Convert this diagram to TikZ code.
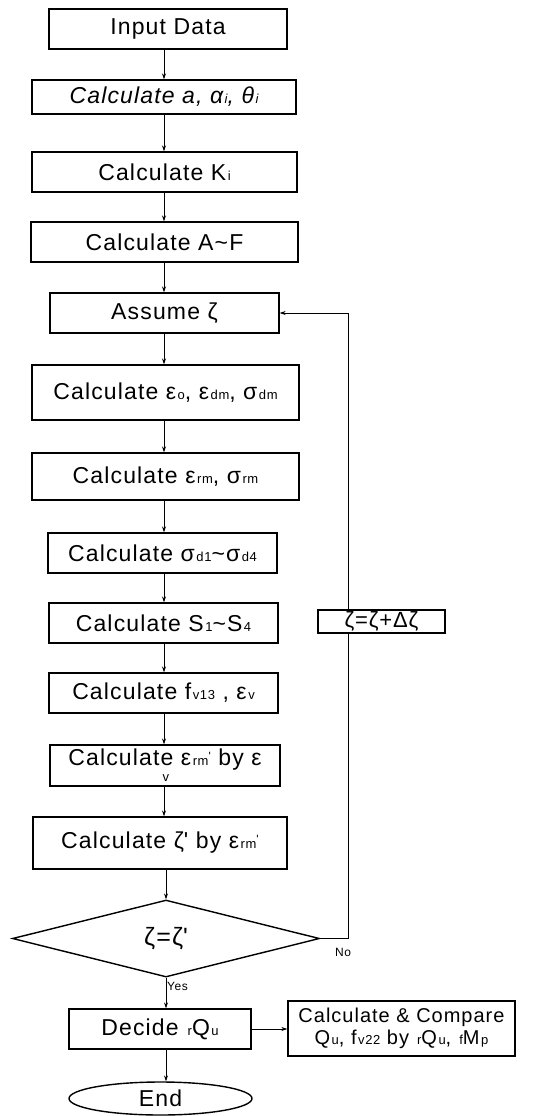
\documentclass[tikz,border=0pt]{standalone}
\usepackage{fontspec}
\setmainfont{Liberation Sans}[LetterSpace=5]
\usetikzlibrary{shapes.geometric,arrows.meta}
\newcommand\sbx[1]{\kern1.5pt{\fontsize{13}{13}\selectfont #1}}
\newcommand\prm{\raisebox{5pt}{\fontsize{12}{12}\selectfont\textquotesingle}}
\begin{document}
\begin{tikzpicture}[x=1pt,y=-1pt,
  box/.style={draw, line width=1.4pt, rectangle, inner sep=0pt, align=center, font=\fontsize{23}{27}\selectfont},
  arr/.style={-{Stealth[length=6pt,width=4pt]}, line width=0.7pt},
  ln/.style={line width=0.7pt},
  lbl/.style={font=\fontsize{12}{12}\selectfont, inner sep=0pt}]
\useasboundingbox (0,0) rectangle (547,1116);
\coordinate (ax) at (164,0);
\coordinate (lx) at (348,0);
\node[box, minimum width=238pt, minimum height=40pt] (in) at (168,29) {Input Data};
\node[box, minimum width=264pt, minimum height=34pt] (ca) at (164,97) {\itshape Calculate a, α\sbx{i}, θ\sbx{i}};
\node[box, minimum width=265pt, minimum height=40pt] (ki) at (164.5,172) {Calculate K\sbx{i}};
\node[box, minimum width=267pt, minimum height=40pt] (af) at (164.5,242) {Calculate A\textasciitilde F};
\node[box, minimum width=229pt, minimum height=40pt] (as) at (164.5,313) {Assume ζ};
\node[box, minimum width=267pt, minimum height=55pt] (eo) at (165.5,392.5) {Calculate ε\sbx{o}, ε\sbx{dm}, σ\sbx{dm}};
\node[box, minimum width=267pt, minimum height=47pt] (er) at (165.5,476.5) {Calculate ε\sbx{rm}, σ\sbx{rm}};
\node[box, minimum width=229pt, minimum height=40pt] (sd) at (162.5,553) {Calculate σ\sbx{d1}\textasciitilde σ\sbx{d4}};
\node[box, minimum width=229pt, minimum height=40pt] (s1) at (163.5,623) {Calculate S\sbx{1}\textasciitilde S\sbx{4}};
\node[box, minimum width=229pt, minimum height=40pt] (fv) at (163.5,693) {Calculate f\sbx{v13} , ε\sbx{v}};
\node[box, minimum width=230pt, minimum height=41pt] (em) at (165,765.5) {Calculate ε\sbx{rm}\prm{} by ε\\[-11pt]\sbx{v}};
\node[box, minimum width=254pt, minimum height=52pt] (zp) at (160,843) {Calculate ζ\textquotesingle{} by ε\sbx{rm}\prm};
\node[box, diamond, aspect=4, minimum width=307pt, minimum height=77pt, font=\fontsize{25}{28}\selectfont] (dia) at (166,938.5) {ζ=ζ\textquotesingle};
\node[box, minimum width=182pt, minimum height=40pt] (dec) at (160,1029) {Decide \sbx{r}Q\sbx{u}};
\node[box, minimum width=227pt, minimum height=55pt, font=\fontsize{20}{22}\selectfont] (cmp) at (401.5,1028.5) {Calculate \& Compare\\ Q\sbx{u}, f\sbx{v22} by \sbx{r}Q\sbx{u}, \sbx{f}M\sbx{p}};
\node[box, ellipse, minimum width=183pt, minimum height=33pt] (end) at (160.5,1098.5) {End};
\node[box, minimum width=127pt, minimum height=23pt, font=\fontsize{22}{22}\selectfont\addfontfeature{LetterSpace=4}] (zb) at (381.5,621.5) {ζ=ζ+Δζ};
\node[lbl, anchor=west] (yes) at (167,986) {Yes};
\node[lbl] (no) at (343,952) {No};
\draw[arr] (in.south -| ax) -- (ca.north -| ax);
\draw[arr] (ca.south -| ax) -- (ki.north -| ax);
\draw[arr] (ki.south -| ax) -- (af.north -| ax);
\draw[arr] (af.south -| ax) -- (as.north -| ax);
\draw[arr] (as.south -| ax) -- (eo.north -| ax);
\draw[arr] (eo.south -| ax) -- (er.north -| ax);
\draw[arr] (er.south -| ax) -- (sd.north -| ax);
\draw[arr] (sd.south -| ax) -- (s1.north -| ax);
\draw[arr] (s1.south -| ax) -- (fv.north -| ax);
\draw[arr] (fv.south -| ax) -- (em.north -| ax);
\draw[arr] (em.south -| ax) -- (zp.north -| ax);
\draw[arr] (zp.south -| dia.north) -- (dia.north);
\draw[arr] (dia.south) -- (dia.south |- dec.north);
\draw[arr] (dec.south -| dia.south) -- (end.north -| dia.south);
\draw[arr] (dec.east) -- (cmp.west |- dec.east);
\draw[ln] (dia.east) -| (zb.south -| lx);
\draw[arr] (zb.north -| lx) |- (as.east);
\end{tikzpicture}
\end{document}
